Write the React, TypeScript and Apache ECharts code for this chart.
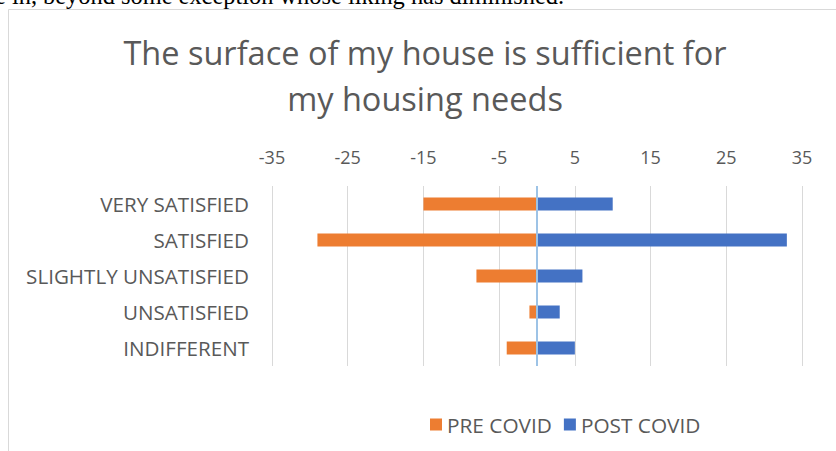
import React, { useEffect, useRef } from "react";
import * as echarts from "echarts";

const categories = ["VERY SATISFIED", "SATISFIED", "SLIGHTLY UNSATISFIED", "UNSATISFIED", "INDIFFERENT"];
const preCovid = [-15, -29, -8, -1, -4];
const postCovid = [10, 33, 6, 3, 5];
const tickValues = [-35, -25, -15, -5, 5, 15, 25, 35];
const titleLines = ["The surface of my house is sufficient for", "my housing needs"];
const clippedText = "e in, beyond some exception whose liking has diminished.";

export default function App() {
  const ref = useRef<HTMLDivElement>(null);
  useEffect(() => {
    if (!ref.current) return;
    const chart = echarts.init(ref.current, undefined, { renderer: "svg" });
    const font = "'Open Sans', sans-serif";
    chart.setOption({
      animation: false,
      backgroundColor: "#ffffff",
      graphic: [
        {
          type: "rect",
          shape: { x: 8.5, y: 9.5, width: 900, height: 500 },
          style: { fill: "none", stroke: "#d9d9d9", lineWidth: 1 },
          z: 0,
        },
        {
          type: "text",
          x: -5,
          y: 7,
          style: {
            text: clippedText,
            font: "24.4px 'Liberation Serif', serif",
            fill: "#000000",
            verticalAlign: "bottom",
          },
        },
        {
          type: "text",
          x: 425,
          y: 52,
          style: {
            text: titleLines[0],
            font: `32.5px ${font}`,
            fill: "#595959",
            align: "center",
            verticalAlign: "middle",
          },
        },
        {
          type: "text",
          x: 425,
          y: 98,
          style: {
            text: titleLines[1],
            font: `32.5px ${font}`,
            fill: "#595959",
            align: "center",
            verticalAlign: "middle",
          },
        },
      ],
      legend: {
        data: ["PRE COVID", "POST COVID"],
        left: 425,
        top: 409,
        itemWidth: 12,
        itemHeight: 12,
        itemGap: 12,
        icon: "rect",
        textStyle: { color: "#595959", fontSize: 20.8, fontFamily: font },
      },
      grid: { left: 272, right: 34, top: 186, height: 180, containLabel: false },
      xAxis: {
        type: "value",
        position: "top",
        min: -35,
        max: 35,
        axisLine: { show: false },
        axisTick: { show: false, customValues: tickValues },
        axisLabel: {
          customValues: tickValues,
          color: "#595959",
          fontSize: 18,
          fontFamily: font,
          margin: 20,
        },
        splitLine: { show: true, lineStyle: { color: "#d9d9d9", width: 1 } },
      },
      yAxis: {
        type: "category",
        inverse: true,
        data: categories,
        axisLine: { show: false },
        axisTick: { show: false },
        axisLabel: { color: "#595959", fontSize: 20.6, fontFamily: font, margin: 23 },
      },
      series: [
        {
          name: "PRE COVID",
          type: "bar",
          stack: "total",
          data: preCovid,
          barWidth: 13,
          itemStyle: { color: "#ED7D31" },
          markLine: {
            silent: true,
            symbol: "none",
            label: { show: false },
            lineStyle: { color: "#9DC3E6", width: 2, type: "solid" },
            data: [{ xAxis: 0 }],
          },
        },
        {
          name: "POST COVID",
          type: "bar",
          stack: "total",
          data: postCovid,
          barWidth: 13,
          itemStyle: { color: "#4472C4" },
        },
      ],
    });
    return () => chart.dispose();
  }, []);
  return (
    <div style={{ position: "fixed", left: 0, top: 0, width: 836, height: 451, overflow: "hidden", background: "#fff" }}>
      <div ref={ref} style={{ width: 836, height: 451 }} />
    </div>
  );
}
